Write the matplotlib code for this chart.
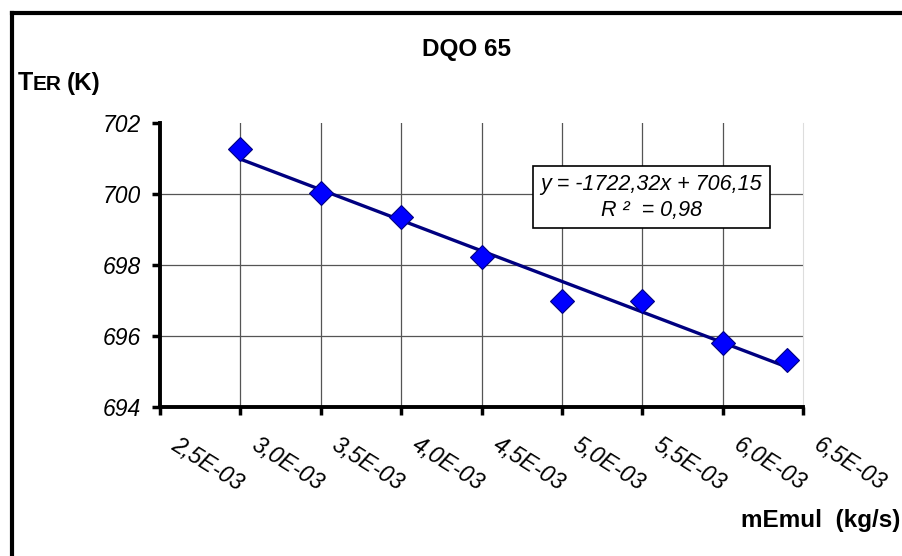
import matplotlib.pyplot as plt
from matplotlib.lines import Line2D
from matplotlib.transforms import ScaledTranslation

plt.rcParams['font.family'] = ['Liberation Sans', 'DejaVu Sans']

# caudal de emulsion (kg/s) y temperatura (K)
m_emul = [0.0030, 0.0035, 0.0040, 0.0045, 0.0050, 0.0055, 0.0060, 0.0064]
t_er = [701.27, 700.03, 699.35, 698.23, 697.00, 697.00, 695.80, 695.32]

# recta de ajuste
pendiente = -1722.32
ordenada = 706.15
r2 = 0.98

x_ticks = [0.0025, 0.0030, 0.0035, 0.0040, 0.0045, 0.0050, 0.0055, 0.0060, 0.0065]
x_labels = ['2,5E-03', '3,0E-03', '3,5E-03', '4,0E-03', '4,5E-03',
            '5,0E-03', '5,5E-03', '6,0E-03', '6,5E-03']
y_ticks = [694, 696, 698, 700, 702]

W, H = 902, 556
fig = plt.figure(figsize=(W / 100, H / 100), dpi=100)
ax = fig.add_axes([160 / W, 1 - 407 / H, 643 / W, 284 / H])

ax.set_xlim(x_ticks[0], x_ticks[-1])
ax.set_ylim(y_ticks[0], y_ticks[-1])
ax.set_xticks(x_ticks)
ax.set_xticklabels(x_labels, rotation=-32, rotation_mode='anchor',
                   ha='left', va='top', fontsize=16.5, style='italic')
ax.set_yticks(y_ticks)
ax.set_yticklabels([str(v) for v in y_ticks], fontsize=16.5, style='italic')
ax.tick_params(axis='x', direction='out', length=6, width=2.5, pad=0)
ax.tick_params(axis='y', direction='out', length=6, width=2.5, pad=8)

off = ScaledTranslation(0.19, -0.18, fig.dpi_scale_trans)
for lab in ax.get_xticklabels():
    lab.set_transform(lab.get_transform() + off)

ax.grid(True, color='#555555', linewidth=0.9)
for gl in [ax.get_xgridlines()[0], ax.get_xgridlines()[-1],
           ax.get_ygridlines()[0], ax.get_ygridlines()[-1]]:
    gl.set_visible(False)

for s in ['left', 'bottom']:
    ax.spines[s].set_linewidth(2.8)
ax.spines['top'].set_visible(False)
ax.spines['right'].set_color('#dddddd')
ax.spines['right'].set_linewidth(0.8)

# linea de tendencia
xl = [m_emul[0], m_emul[-1]]
yl = [pendiente * v + ordenada for v in xl]
ax.plot(xl, yl, color='#000080', linewidth=2.4, zorder=3)

ax.plot(m_emul, t_er, 'D', markersize=12.5, markerfacecolor='#0000FF',
        markeredgecolor='#000080', markeredgewidth=0.8, linestyle='none',
        zorder=4, clip_on=False)

eq = 'y = %sx + %s\nR ²  = %s' % (
    ('%.2f' % pendiente).replace('.', ','),
    ('%.2f' % ordenada).replace('.', ','),
    ('%.2f' % r2).replace('.', ','))
ax.text(0.764, 0.739, eq, transform=ax.transAxes, ha='center', va='center',
        fontsize=15.5, style='italic', linespacing=1.3, multialignment='center',
        bbox=dict(boxstyle='square,pad=0.35', facecolor='white',
                  edgecolor='black', linewidth=1.2), zorder=5)

# titulo y ejes
fig.text(466 / W, 1 - 56 / H, 'DQO 65', ha='center', va='baseline',
         fontsize=17.5, fontweight='bold')
fig.text(18 / W, 1 - 90 / H, 'T', ha='left', va='baseline',
         fontsize=18, fontweight='bold')
fig.text(33 / W, 1 - 90 / H, 'ER', ha='left', va='baseline',
         fontsize=15, fontweight='bold')
fig.text(67 / W, 1 - 90 / H, '(K)', ha='left', va='baseline',
         fontsize=17.5, fontweight='bold')
fig.text(900 / W, 1 - 527 / H, 'mEmul  (kg/s)', ha='right', va='baseline',
         fontsize=17.5, fontweight='bold')

# marco exterior
y_top = 1 - 13 / H
x_left = 12 / W
fig.add_artist(Line2D([x_left, 1], [y_top, y_top], color='black', linewidth=3))
fig.add_artist(Line2D([x_left, x_left], [0, y_top], color='black', linewidth=3))

fig.savefig('out.png', dpi=100)
